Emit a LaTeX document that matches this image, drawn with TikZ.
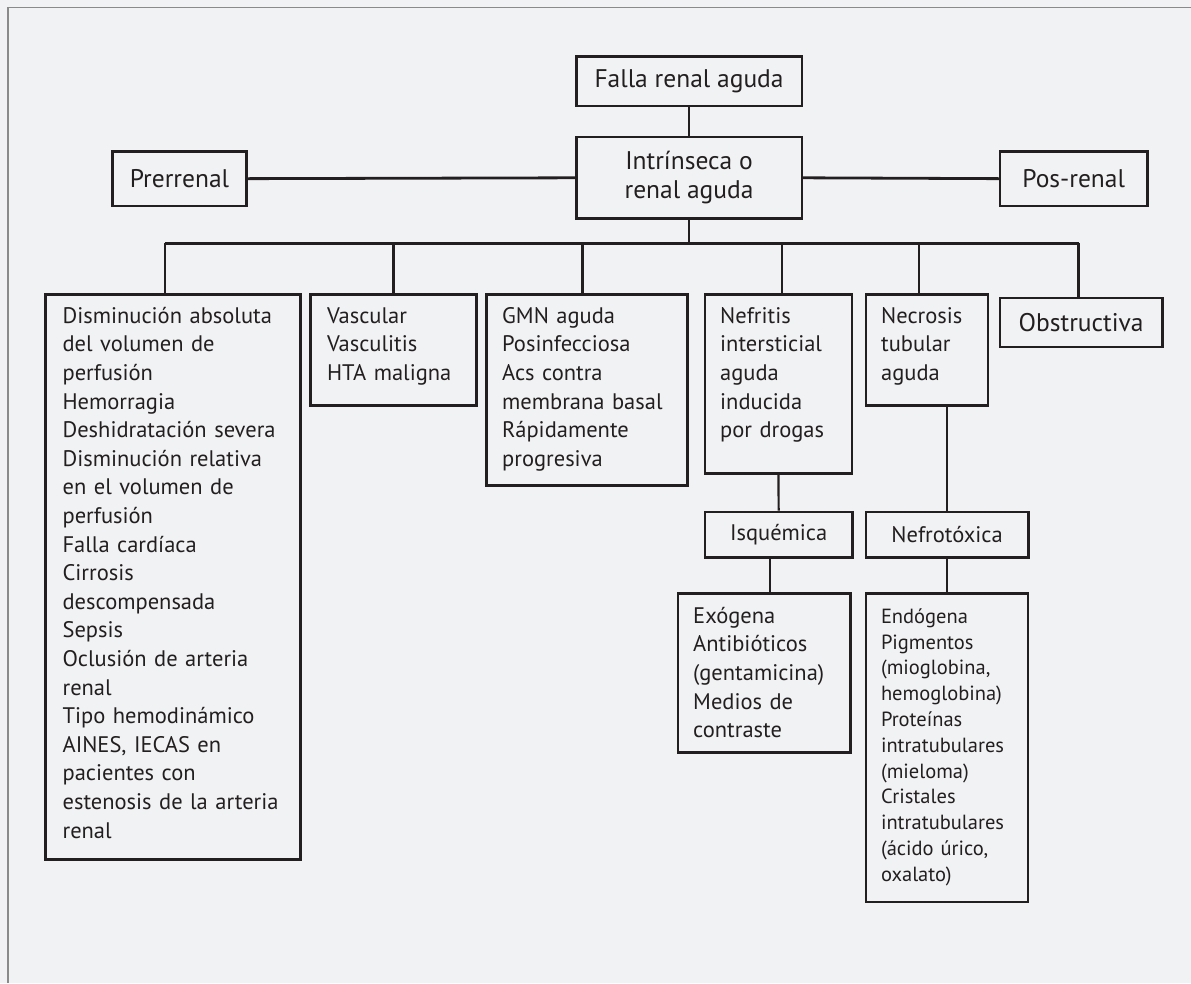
\documentclass[tikz,border=0pt]{standalone}
\usepackage{fontspec}
\setmainfont{PT Sans}
\definecolor{ink}{HTML}{231F20}
\definecolor{bg}{HTML}{F1F2F4}
\definecolor{frame}{HTML}{8A8A8A}
\begin{document}
\begin{tikzpicture}[x=1pt,y=-1pt,
  box/.style={draw=ink, line width=2.6pt, inner sep=0pt, anchor=north west, font=\fontsize{22.5}{28.6}\selectfont, text=ink},
  topbox/.style={box, font=\fontsize{25.5}{29}\selectfont, align=center},
  txt/.style={anchor=base west, inner sep=0pt, text width=240pt, align=left, text=ink, font=\fontsize{22.5}{28.6}\selectfont},
  conn/.style={draw=ink, line width=2.2pt},
  bus/.style={draw=ink, line width=2.8pt}]
\fill[bg] (0,0) rectangle (1191,983);
\useasboundingbox (0,0) rectangle (1191,983);
\draw[frame, line width=1.8pt] (7.7,983) -- (7.7,7.5) -- (1191,7.5);
% top level
\node[topbox, minimum width=225.5pt, minimum height=49.7pt] (falla) at (575,55) {Falla renal aguda};
\node[topbox, minimum width=225.5pt, minimum height=81.6pt] (intr) at (575,135.7) {Intrínseca o\\renal aguda};
\node[topbox, minimum width=134.3pt, minimum height=54.7pt] (pre) at (111,150) {Prerrenal};
\node[topbox, minimum width=147.2pt, minimum height=54.7pt] (pos) at (998.8,150) {Pos-renal};
% second level
\node[box, minimum width=255.3pt, minimum height=564.7pt] (dism) at (44,293.3) {};
\node[box, minimum width=166.3pt, minimum height=111pt] (vasc) at (309,293.3) {};
\node[box, minimum width=201pt, minimum height=190.7pt] (gmn) at (485,293.3) {};
\node[box, minimum width=147pt, minimum height=178.7pt] (nef) at (703.7,293.3) {};
\node[box, minimum width=122.1pt, minimum height=110.7pt] (necro) at (864.6,293.3) {};
\node[box, font=\fontsize{25.5}{29}\selectfont, minimum width=162.1pt, minimum height=49pt] (obst) at (998.8,296.7) {Obstructiva};
% third level
\node[box, minimum width=147.3pt, minimum height=45.3pt] (isq) at (703.7,510.7) {Isquémica};
\node[box, minimum width=162.4pt, minimum height=45.3pt] (nefro) at (864.6,510.7) {Nefrotóxica};
% fourth level
\node[box, minimum width=172.5pt, minimum height=159pt] (exo) at (676.5,592) {};
\node[box, minimum width=162.1pt, minimum height=308.7pt] (endo) at (864.6,592) {};
% texts
\node[txt] (tdism) at (62.4,323.3) {Disminución absoluta\\del volumen de\\perfusión\\Hemorragia\\Deshidratación severa\\Disminución relativa\\en el volumen de\\perfusión\\Falla cardíaca\\Cirrosis\\descompensada\\Sepsis\\Oclusión de arteria\\renal\\Tipo hemodinámico\\AINES, IECAS en\\pacientes con\\estenosis de la arteria\\renal};
\node[txt] (tvasc) at (326.8,323.3) {Vascular\\Vasculitis\\HTA maligna};
\node[txt] (tgmn) at (502,323.3) {GMN aguda\\Posinfecciosa\\Acs contra\\membrana basal\\Rápidamente\\progresiva};
\node[txt] (tnef) at (720,323.3) {Nefritis\\intersticial\\aguda\\inducida\\por drogas};
\node[txt] (tnecro) at (881,323.3) {Necrosis\\tubular\\aguda};
\node[txt] (texo) at (693,623.3) {Exógena\\Antibióticos\\(gentamicina)\\Medios de\\contraste};
\node[txt, font=\fontsize{20.5}{25.8}\selectfont] (tendo) at (880.8,623.3) {Endógena\\Pigmentos\\(mioglobina,\\hemoglobina)\\Proteínas\\intratubulares\\(mieloma)\\Cristales\\intratubulares\\(ácido úrico,\\oxalato)};
% connectors
\draw[conn] (falla.south) -- (intr.north);
\draw[bus] (pre.east) -- (intr.west);
\draw[bus] (intr.east) -- (pos.west);
\coordinate (b1) at (164.8,243.3);
\coordinate (b2) at (393.4,243.3);
\coordinate (b3) at (582.5,243.3);
\coordinate (b4) at (782.3,243.3);
\coordinate (b5) at (919,243.3);
\coordinate (b6) at (1078.5,243.3);
\draw[conn] (intr.south) -- (intr.south |- b1);
\draw[bus] (b1) -- (b6);
\draw[conn] (b1) -- (b1 |- dism.north);
\draw[conn] (b2) -- (b2 |- vasc.north);
\draw[conn] (b3) -- (b3 |- gmn.north);
\draw[conn] (b4) -- (b4 |- nef.north);
\draw[conn] (b5) -- (b5 |- necro.north);
\draw[conn] (b6) -- (b6 |- obst.north);
\draw[conn] (nef.south) -- (isq.north);
\draw[conn] (nefro.north) -- (nefro.north |- necro.south);
\coordinate (c1) at (769.6,556);
\draw[conn] (c1) -- (c1 |- exo.north);
\draw[conn] (nefro.south) -- (nefro.south |- endo.north);
\end{tikzpicture}
\end{document}
